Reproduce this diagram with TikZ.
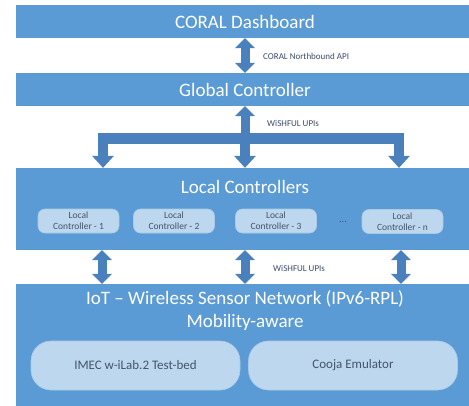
\documentclass[tikz,border=0pt]{standalone}
\usepackage{fontspec}
\setmainfont{Carlito}
\usetikzlibrary{arrows.meta}
\definecolor{boxblue}{HTML}{5B9BD5}
\definecolor{arrblue}{HTML}{4A81BC}
\definecolor{lightblue}{HTML}{BDD7EE}
\definecolor{subedge}{HTML}{A9C9E8}
\definecolor{subtext}{HTML}{44546A}
\definecolor{lbltext}{HTML}{3B4A6B}
\begin{document}
\begin{tikzpicture}[x=1pt,y=-1pt,
 mainbox/.style={fill=boxblue, draw=none, minimum width=458pt, inner sep=0pt, text=white, font=\fontsize{19}{23}\selectfont},
 title/.style={text=white, font=\fontsize{19}{23}\selectfont, align=center, inner sep=0pt},
 subbox/.style={fill=lightblue, draw=subedge, line width=0.6pt, rounded corners=7pt, minimum width=81pt, minimum height=24pt, inner sep=0pt, align=center, text=subtext, font=\fontsize{9.5}{11}\selectfont},
 bigsub/.style={fill=lightblue, draw=subedge, line width=0.6pt, rounded corners=20pt, minimum width=209pt, minimum height=49pt, inner sep=0pt, text=subtext, font=\fontsize{13}{15}\selectfont},
 lbl/.style={text=lbltext, font=\fontsize{9}{11}\selectfont, anchor=west, inner sep=0pt},
 tipa/.tip={Triangle[width=20pt,length=10pt,line width=0pt]},
 dblarrow/.style={draw=arrblue, line width=9pt, tipa-tipa},
 onearrow/.style={draw=arrblue, line width=10pt, -{Triangle[width=22pt,length=12pt,line width=0pt]}},
 uparrow/.style={draw=arrblue, line width=9pt, -{Triangle[width=20pt,length=10pt,line width=0pt]}},
]
\useasboundingbox (0,0) rectangle (469,405);
\clip (0,0) rectangle (469,405);

% main boxes
\node[mainbox, minimum height=33pt] (dash) at (245,21.5) {CORAL Dashboard};
\node[mainbox, minimum height=33pt] (gc) at (245,89.5) {Global Controller};
\node[mainbox, minimum height=82pt] (lc) at (245,209) {};
\node[mainbox, minimum height=126pt] (iot) at (245,347) {};

\node[title] (lctitle) at (245,187) {Local Controllers};
\node[title] (iottitle) at (245,310.5) {IoT -- Wireless Sensor Network (IPv6-RPL)\\Mobility-aware};

% local controller boxes
\node[subbox] (lc1) at (78.5,221) {Local\\Controller - 1};
\node[subbox] (lc2) at (174,221) {Local\\Controller - 2};
\node[subbox] (lc3) at (276,221) {Local\\Controller - 3};
\node[text=subtext, font=\fontsize{10}{12}\selectfont, inner sep=0pt] (dots) at (343,222) {...};
\node[subbox] (lcn) at (402.5,221.5) {Local\\Controller - n};

% IoT boxes
\node[bigsub] (imec) at (135.5,365.5) {IMEC w-iLab.2 Test-bed};
\node[bigsub] (cooja) at (353,365.5) {Cooja Emulator};

% dashboard <-> global
\draw[dblarrow] (dash.south) -- (gc.north);
\node[lbl] (lblapi) at (263,56) {CORAL Northbound API};

% global -> local controllers (branching)
\coordinate (bl) at (98,138.5);
\coordinate (br) at (404,138.5);
\coordinate (jm) at (245,144);
\coordinate (j1) at (103,133);
\coordinate (j2) at (245,133);
\coordinate (j3) at (399,133);
\draw[uparrow] (jm) -- (gc.south);
\draw[arrblue, line width=11pt] (bl) -- (br);
\draw[onearrow] (j1) -- (j1 |- lc.north);
\draw[onearrow] (j2) -- (j2 |- lc.north);
\draw[onearrow] (j3) -- (j3 |- lc.north);
\node[lbl] (lblw1) at (267,123) {WiSHFUL UPIs};

% local <-> IoT
\draw[dblarrow] (lc.south -| 102,0) -- (iot.north -| 102,0);
\draw[dblarrow] (lc.south) -- (iot.north);
\draw[dblarrow] (lc.south -| 401,0) -- (iot.north -| 401,0);
\node[lbl] (lblw2) at (273,268) {WiSHFUL UPIs};
\end{tikzpicture}
\end{document}
